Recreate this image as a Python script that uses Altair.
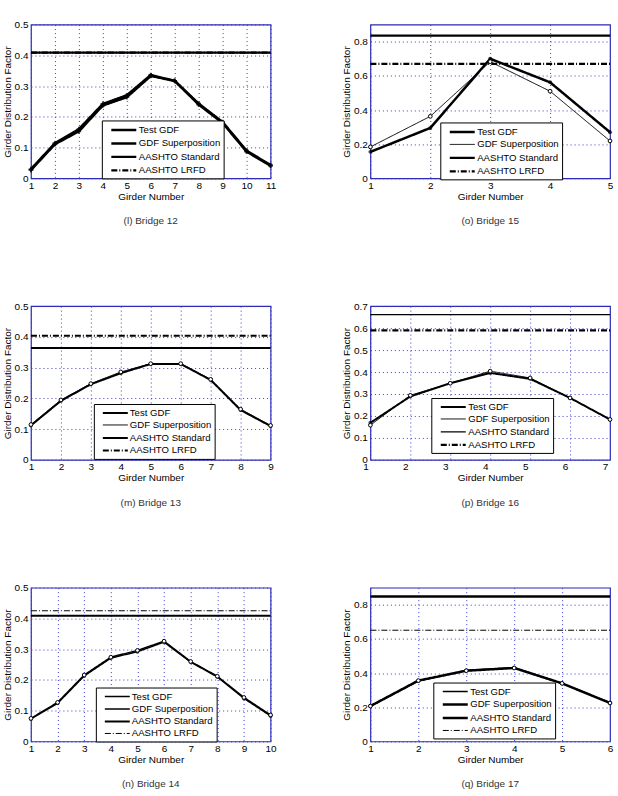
import altair as alt
import pandas as pd

SERIES = ["Test GDF", "GDF Superposition", "AASHTO Standard", "AASHTO LRFD"]

# Bridge 12
b12_test = [0.027, 0.111, 0.153, 0.237, 0.264, 0.333, 0.317, 0.240, 0.180, 0.087, 0.041]
b12_sup = [0.030, 0.114, 0.160, 0.242, 0.270, 0.336, 0.317, 0.243, 0.183, 0.090, 0.043]
b12_std, b12_lrfd = 0.409, 0.409
# Bridge 15
b15_test = [0.155, 0.295, 0.700, 0.562, 0.270]
b15_sup = [0.184, 0.363, 0.683, 0.510, 0.219]
b15_std, b15_lrfd = 0.835, 0.670
# Bridge 13
b13_test = [0.112, 0.192, 0.246, 0.282, 0.312, 0.312, 0.260, 0.162, 0.110]
b13_sup = [0.115, 0.195, 0.248, 0.286, 0.313, 0.313, 0.262, 0.165, 0.112]
b13_std, b13_lrfd = 0.364, 0.404
# Bridge 16
b16_test = [0.169, 0.289, 0.349, 0.396, 0.369, 0.282, 0.184]
b16_sup = [0.158, 0.294, 0.349, 0.404, 0.373, 0.282, 0.184]
b16_std, b16_lrfd = 0.661, 0.590
# Bridge 14
b14_test = [0.073, 0.124, 0.213, 0.271, 0.292, 0.323, 0.258, 0.210, 0.140, 0.083]
b14_sup = [0.075, 0.127, 0.216, 0.274, 0.296, 0.326, 0.260, 0.212, 0.143, 0.086]
b14_std, b14_lrfd = 0.409, 0.425
# Bridge 17
b17_test = [0.207, 0.354, 0.416, 0.432, 0.339, 0.227]
b17_sup = [0.207, 0.356, 0.414, 0.430, 0.340, 0.225]
b17_std, b17_lrfd = 0.848, 0.651

y_ticks_05 = [0, 0.1, 0.2, 0.3, 0.4, 0.5]
y_ticks_07 = [0, 0.1, 0.2, 0.3, 0.4, 0.5, 0.6, 0.7]
y_ticks_09 = [0, 0.2, 0.4, 0.6, 0.8]

panels = [
    dict(title="(l) Bridge 12", test=b12_test, sup=b12_sup, std=b12_std, lrfd=b12_lrfd,
         ymax=0.5, yt=y_ticks_05, widths=[2.5, 2.5, 2.2, 2.2], style="cross", lx=71, ly=96, ldx=0),
    dict(title="(o) Bridge 15", test=b15_test, sup=b15_sup, std=b15_std, lrfd=b15_lrfd,
         ymax=0.9, yt=y_ticks_09, widths=[2.5, 1, 2.2, 2.2], style="dots", lx=70, ly=98, ldx=0),
    dict(title="(m) Bridge 13", test=b13_test, sup=b13_sup, std=b13_std, lrfd=b13_lrfd,
         ymax=0.5, yt=y_ticks_05, widths=[2, 1, 2, 2], style="dots", lx=63, ly=98, ldx=0),
    dict(title="(p) Bridge 16", test=b16_test, sup=b16_sup, std=b16_std, lrfd=b16_lrfd,
         ymax=0.7, yt=y_ticks_07, widths=[2, 1, 1.2, 2.2], style="dots", lx=61, ly=92, ldx=-5),
    dict(title="(n) Bridge 14", test=b14_test, sup=b14_sup, std=b14_std, lrfd=b14_lrfd,
         ymax=0.5, yt=y_ticks_05, widths=[1.5, 1.5, 2, 1], style="dots", lx=65, ly=100, ldx=0),
    dict(title="(q) Bridge 17", test=b17_test, sup=b17_sup, std=b17_std, lrfd=b17_lrfd,
         ymax=0.9, yt=y_ticks_09, widths=[1.5, 2.5, 2.5, 1], style="dots", lx=63, ly=95, ldx=0),
]

DASHES = [[1, 0], [1, 0], [1, 0], [6, 2, 1, 2]]


def make_panel(p):
    n = len(p["test"])
    rows = []
    for i, (t, s) in enumerate(zip(p["test"], p["sup"])):
        rows.append({"girder": i + 1, "gdf": t, "series": SERIES[0]})
        rows.append({"girder": i + 1, "gdf": s, "series": SERIES[1]})
    for g in (1, n):
        rows.append({"girder": g, "gdf": p["std"], "series": SERIES[2]})
        rows.append({"girder": g, "gdf": p["lrfd"], "series": SERIES[3]})
    df = pd.DataFrame(rows)

    x = alt.X("girder:Q",
              scale=alt.Scale(domain=[1, n], nice=False, zero=False),
              axis=alt.Axis(values=list(range(1, n + 1)), format="d", title="Girder Number",
                            labelFlush=False, labelPadding=2, titlePadding=1, labelOffset=p["ldx"]))
    y = alt.Y("gdf:Q",
              scale=alt.Scale(domain=[0, p["ymax"]], nice=False),
              axis=alt.Axis(values=p["yt"], format=".1~f", title="Girder Distribution Factor",
                            labelPadding=3, titlePadding=2))
    legend = alt.Legend(orient="none", legendX=p["lx"], legendY=p["ly"], title=None)
    lines = alt.Chart(df).mark_line(color="black").encode(
        x=x, y=y,
        strokeDash=alt.StrokeDash("series:N", scale=alt.Scale(domain=SERIES, range=DASHES), legend=legend),
        strokeWidth=alt.StrokeWidth("series:N", scale=alt.Scale(type="ordinal", domain=SERIES, range=p["widths"]),
                                    legend=legend),
    )
    if p["style"] == "cross":
        pt = alt.Chart(df).transform_filter(
            (alt.datum.series == SERIES[0]) | (alt.datum.series == SERIES[1])
        ).mark_point(shape="cross", filled=True, color="black", size=22).encode(x=x, y=y)
        layers = [lines, pt]
    else:
        pt1 = alt.Chart(df).transform_filter(alt.datum.series == SERIES[0]).mark_point(
            shape="circle", filled=True, color="black", size=16).encode(x=x, y=y)
        pt2 = alt.Chart(df).transform_filter(alt.datum.series == SERIES[1]).mark_point(
            shape="circle", fill="white", fillOpacity=1, stroke="black", strokeWidth=1, size=14).encode(x=x, y=y)
        layers = [lines, pt1, pt2]
    return alt.layer(*layers).properties(
        width=240, height=154,
        title=alt.TitleParams(p["title"], orient="bottom", offset=15, fontSize=10,
                              fontWeight="normal", color="#333333", anchor="middle"),
    )


charts = [make_panel(p) for p in panels]

chart = alt.concat(*charts, columns=2, spacing={"row": 128, "column": 100}, bounds="flush").resolve_scale(
    strokeDash="independent", strokeWidth="independent"
).resolve_legend(
    strokeDash="independent", strokeWidth="independent"
).properties(
    padding={"left": 1, "top": 18, "right": 2, "bottom": 2}
).configure(font="Liberation Sans").configure_view(
    stroke="#2a2ab4", strokeWidth=1.2
).configure_axis(
    grid=True, gridColor="#3a3ad0", gridDash=[1, 3], gridWidth=1, gridOpacity=1,
    domain=False, ticks=False, labelFontSize=10, labelColor="black",
    titleFontSize=10, titleFontWeight="normal", titleColor="black",
).configure_legend(
    strokeColor="black", fillColor="white", padding=3, labelFontSize=9.6, labelColor="black",
    symbolType="M-1,0H4", symbolSize=100, symbolStrokeColor="black", rowPadding=1.5,
    labelOffset=16, symbolOffset=5, cornerRadius=0, labelLimit=200,
)

chart.save("out.html", embed_options={"renderer": "svg", "actions": False})
